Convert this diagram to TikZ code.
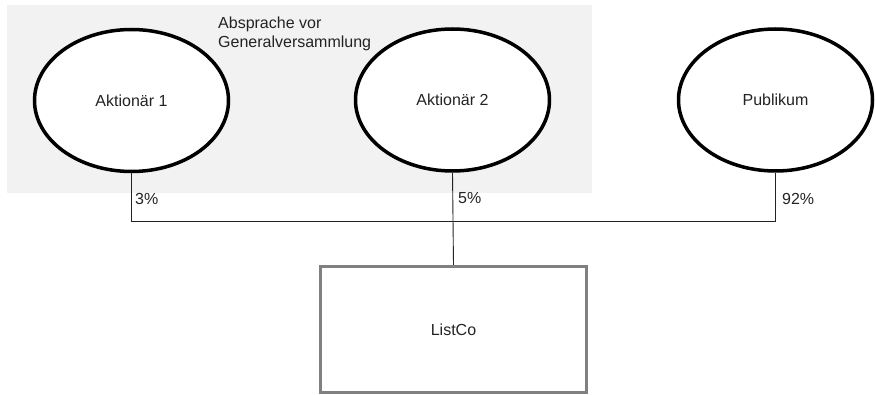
\documentclass[tikz,border=0pt]{standalone}
\usepackage{fontspec}
\setmainfont{Liberation Sans}
\usetikzlibrary{shapes.geometric, positioning}
\definecolor{groupgray}{RGB}{242, 242, 242}
\definecolor{boxgray}{RGB}{128, 128, 128}
\definecolor{textdark}{RGB}{35, 35, 35}

\begin{document}
\begin{tikzpicture}[
    x=1pt, y=-1pt,
    every node/.style={font=\fontsize{16}{18.5}\selectfont, text=textdark},
    holder/.style={ellipse, draw=black, fill=white, line width=3.5pt, minimum width=194pt, minimum height=142pt, inner sep=0pt},
    company/.style={rectangle, draw=boxgray, fill=white, line width=3.2pt, minimum width=266pt, minimum height=126pt, inner sep=0pt},
    pct/.style={anchor=west, inner sep=0pt},
    link/.style={line width=0.9pt, draw=textdark},
]
\useasboundingbox (0,0) rectangle (876,395);

% Agreement area
\node[rectangle, fill=groupgray, minimum width=585pt, minimum height=188pt, inner sep=0pt, anchor=north west] (group) at (7,5) {};
\node[anchor=north west, align=left, inner sep=0pt] (deal) at (218,17) {Absprache vor\\Generalversammlung};

% Shareholders
\node[holder] (a1) at (131.5,100.5) {Aktionär 1};
\node[holder] (a2) at (452.5,100) {Aktionär 2};
\node[holder] (pub) at (775.5,100) {Publikum};

% Company
\node[company] (listco) at (453.5,329.5) {ListCo};

% Connectors
\draw[link] (a1.south) -- ++(0,48) -| (pub.south);
\draw[link] (a2.south) -- (listco.north);

% Shares
\node[pct] (p1) at (135,199) {3\%};
\node[pct] (p2) at (458,198) {5\%};
\node[pct] (p3) at (782,199) {92\%};

\end{tikzpicture}
\end{document}
